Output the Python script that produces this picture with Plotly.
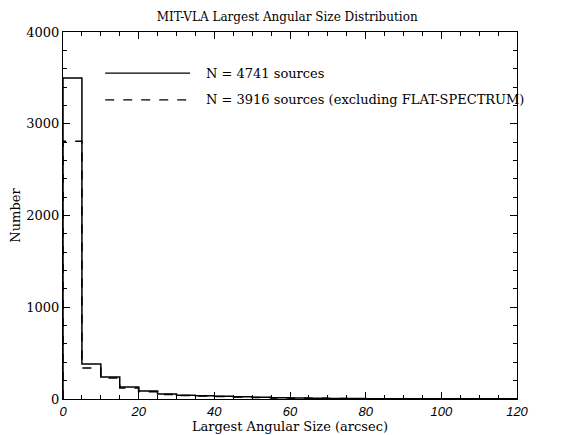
import plotly.graph_objects as go

bin_edges = [0, 5, 10, 15, 20, 25, 30, 35, 40, 45, 50, 55, 60, 65, 70, 75, 80,
             85, 90, 95, 100, 105, 110, 115, 120]
all_counts = [3500, 381, 240, 130, 87, 55, 42, 36, 30, 25, 18, 13, 10, 8, 6, 5,
              4, 4, 3, 3, 3, 2, 2, 2]
noflat_counts = [2810, 338, 230, 120, 80, 50, 38, 32, 27, 22, 16, 11, 9, 7, 5, 4,
                 3, 3, 3, 2, 2, 2, 2, 1]
series_names = ["N = 4741 sources", "N = 3916 sources (excluding FLAT-SPECTRUM)"]
x_ticks = [0, 20, 40, 60, 80, 100, 120]
y_ticks = [0, 1000, 2000, 3000, 4000]

SERIF = "DejaVu Serif, Liberation Serif, serif"

def step_xy(edges, counts):
    xs = [edges[0]] + list(edges)
    ys = [0] + list(counts) + [0]
    return xs, ys

fig = go.Figure()
for counts, dash in [(all_counts, "solid"), (noflat_counts, "dash")]:
    xs, ys = step_xy(bin_edges, counts)
    fig.add_trace(go.Scatter(x=xs, y=ys, mode="lines", line_shape="hv",
                             line=dict(color="black", width=1.5, dash=dash),
                             showlegend=False, hoverinfo="skip"))

# legend drawn as paper-referenced samples
leg_y = [0.888, 0.815]
for name, dash, ly in zip(series_names, ["solid", "dash"], leg_y):
    fig.add_shape(type="line", xref="paper", yref="paper",
                  x0=0.093, x1=0.28, y0=ly, y1=ly,
                  line=dict(color="black", width=1.3, dash=dash))
    fig.add_annotation(xref="paper", yref="paper", x=0.31, y=ly, text=name,
                       showarrow=False, xanchor="left", yanchor="middle",
                       font=dict(family=SERIF, size=13, color="black"))

axis_common = dict(showline=True, linecolor="black", linewidth=1, mirror="allticks",
                   ticks="inside", ticklen=7, tickcolor="black", showgrid=False,
                   zeroline=False, automargin=False)
fig.update_xaxes(range=[0, 120], tickvals=x_ticks, ticktext=[str(v) for v in x_ticks],
                 minor=dict(dtick=5, ticks="inside", ticklen=4, tickcolor="black", showgrid=False),
                 tickfont=dict(family="Liberation Sans, Arial, sans-serif", size=13,
                               color="black", style="italic"),
                 title=dict(text="Largest Angular Size (arcsec)", standoff=2,
                            font=dict(family=SERIF, size=13, color="black")),
                 **axis_common)
fig.update_yaxes(range=[0, 4000], tickvals=y_ticks, ticktext=[str(v) for v in y_ticks],
                 minor=dict(dtick=200, ticks="inside", ticklen=4, tickcolor="black", showgrid=False),
                 tickfont=dict(family=SERIF, size=13, color="black"),
                 title=dict(text="Number", standoff=6,
                            font=dict(family=SERIF, size=13, color="black")),
                 **axis_common)

fig.update_layout(
    width=555, height=427,
    margin=dict(l=55, r=46, t=24, b=36),
    paper_bgcolor="white", plot_bgcolor="white",
    title=dict(text="MIT-VLA Largest Angular Size Distribution", x=0.503, xanchor="center",
               yref="container", y=0.979, yanchor="middle",
               font=dict(family=SERIF, size=12, color="black")),
    showlegend=False,
)

fig.write_html("out.html")
